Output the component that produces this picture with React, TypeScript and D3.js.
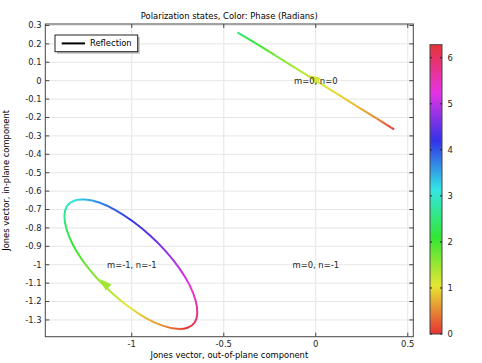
import React from 'react';
import * as d3 from 'd3';

// chart values
const xTicks = [-1, -0.5, 0, 0.5];
const yTicks = [0.3, 0.2, 0.1, 0, -0.1, -0.2, -0.3, -0.4, -0.5, -0.6, -0.7, -0.8, -0.9, -1, -1.1, -1.2, -1.3];
const phaseTicks = [0, 1, 2, 3, 4, 5, 6];

// [x, y, phase] along the m=-1, n=-1 ellipse
const ellipseMm1 = [
    [-0.697, -1.342, 0.0], [-0.756, -1.348, 0.26], [-0.833, -1.331, 0.52], [-0.921, -1.291, 0.79],
    [-1.015, -1.23, 1.05], [-1.108, -1.154, 1.31], [-1.194, -1.068, 1.57], [-1.268, -0.976, 1.83],
    [-1.323, -0.886, 2.09], [-1.356, -0.802, 2.36], [-1.366, -0.732, 2.62], [-1.352, -0.68, 2.88],
    [-1.313, -0.652, 3.14], [-1.254, -0.646, 3.4], [-1.177, -0.662, 3.67], [-1.089, -0.703, 3.93],
    [-0.995, -0.764, 4.19], [-0.902, -0.84, 4.45], [-0.816, -0.926, 4.71], [-0.742, -1.018, 4.97],
    [-0.687, -1.108, 5.24], [-0.654, -1.192, 5.5], [-0.644, -1.262, 5.76], [-0.658, -1.314, 6.02],
];

// [x, y, phase] along the m=0, n=0 trace (linear polarization)
const lineM0 = [
    [0.4255, -0.2645, 5.95], [0.41, -0.255, 0.1], [0.33, -0.205, 0.5], [0.22, -0.137, 0.8],
    [0.11, -0.068, 0.98], [0.0, 0.0, 1.15], [-0.11, 0.068, 1.4], [-0.22, 0.137, 1.75],
    [-0.33, 0.205, 2.1], [-0.426, 0.263, 2.6],
];

// arrow heads: tip, phase, direction (data units)
const arrows = [
    { x: -1.172, y: -1.078, phase: 1.45, dx: -1, dy: 1 },
    { x: -0.042, y: 0.031, phase: 1.15, dx: -1, dy: 0.62 },
];

const labels = [
    { text: 'm=0, n=0', x: 0, y: 0 },
    { text: 'm=-1, n=-1', x: -1, y: -1 },
    { text: 'm=0, n=-1', x: 0, y: -1 },
];

const TWO_PI = Math.PI * 2;
const phaseColor = (p: number) => d3.hsl((((p % TWO_PI) + TWO_PI) % TWO_PI) / TWO_PI * 360, 0.78, 0.55).toString();

const W = 482, H = 363;
const font = 'DejaVu Sans, sans-serif';
const fs = 8.4;

export default function App() {
    const xScale = d3.scaleLinear().domain([-1.47, 0.53]).range([45.3, 413.3]);
    const yScale = d3.scaleLinear().domain([-1.391, 0.308]).range([336.7, 24]);
    const [x0, x1] = xScale.range();
    const [y0, y1] = yScale.range();
    const cScale = d3.scaleLinear().domain([0, TWO_PI]).range([334, 44.7]);
    const cbX = 430, cbW = 12;

    const ellPx = ellipseMm1.map(d => [xScale(d[0]), yScale(d[1]), d[2]]);
    const smooth = d3.line().curve(d3.curveCardinalClosed.tension(0))(ellPx.map(d => [d[0], d[1]]) as [number, number][]) || '';

    const segs = (pts: number[][], closed: boolean) => {
        const out: { a: number[]; b: number[] }[] = [];
        const n = closed ? pts.length : pts.length - 1;
        for (let i = 0; i < n; i++) out.push({ a: pts[i], b: pts[(i + 1) % pts.length] });
        return out;
    };
    const ellSegs = segs(ellPx, true);
    const linePx = lineM0.map(d => [xScale(d[0]), yScale(d[1]), d[2]]);
    const lineSegs = segs(linePx, false);

    const arrowPath = (a: typeof arrows[0]) => {
        const tx = xScale(a.x), ty = yScale(a.y);
        let ux = a.dx, uy = -a.dy;
        const len = Math.hypot(ux, uy);
        ux /= len; uy /= len;
        const L = 12, hw = 4.2;
        const bx = tx - ux * L, by = ty - uy * L;
        return `M${tx},${ty}L${bx - uy * hw},${by + ux * hw}L${bx + uy * hw},${by - ux * hw}Z`;
    };

    const cbStops = d3.range(0, 61).map(i => i / 60);

    return (
        <svg width={W} height={H} style={{ position: 'absolute', left: 0, top: 0, background: '#fff' }} fontFamily={font}>
            <defs>
                {ellSegs.map((s, i) => (
                    <linearGradient key={'ge' + i} id={'ge' + i} gradientUnits="userSpaceOnUse" x1={s.a[0]} y1={s.a[1]} x2={s.b[0]} y2={s.b[1]}>
                        <stop offset="0" stopColor={phaseColor(s.a[2])} />
                        <stop offset="1" stopColor={phaseColor(i === ellSegs.length - 1 ? TWO_PI : s.b[2])} />
                    </linearGradient>
                ))}
                {lineSegs.map((s, i) => (
                    <linearGradient key={'gl' + i} id={'gl' + i} gradientUnits="userSpaceOnUse" x1={s.a[0]} y1={s.a[1]} x2={s.b[0]} y2={s.b[1]}>
                        <stop offset="0" stopColor={phaseColor(s.a[2])} />
                        <stop offset="1" stopColor={phaseColor(s.b[2])} />
                    </linearGradient>
                ))}
                <linearGradient id="cbar" x1="0" y1="1" x2="0" y2="0">
                    {cbStops.map(t => <stop key={t} offset={t} stopColor={phaseColor(t * TWO_PI * 0.9999)} />)}
                </linearGradient>
                <mask id="ellMask" maskUnits="userSpaceOnUse" x={0} y={0} width={W} height={H}>
                    <path d={smooth} fill="none" stroke="#fff" strokeWidth={2} />
                </mask>
            </defs>

            {/* title */}
            <text x={(x0 + x1) / 2} y={19} textAnchor="middle" fontSize={fs}>Polarization states, Color: Phase (Radians)</text>

            {/* grid */}
            <g stroke="#e6e6e6" strokeWidth={1}>
                {xTicks.map(t => <line key={'gx' + t} x1={xScale(t)} x2={xScale(t)} y1={y1} y2={y0} />)}
                {yTicks.map(t => <line key={'gy' + t} x1={x0} x2={x1} y1={yScale(t)} y2={yScale(t)} />)}
            </g>

            {/* m=0, n=0 trace */}
            <g fill="none" strokeWidth={2}>
                {lineSegs.map((s, i) => (
                    <line key={'ls' + i} x1={s.a[0]} y1={s.a[1]} x2={s.b[0]} y2={s.b[1]} stroke={`url(#gl${i})`} />
                ))}
            </g>

            {/* m=-1, n=-1 ellipse */}
            <g mask="url(#ellMask)" strokeWidth={8} strokeLinecap="round">
                {ellSegs.map((s, i) => (
                    <line key={'es' + i} x1={s.a[0]} y1={s.a[1]} x2={s.b[0]} y2={s.b[1]} stroke={`url(#ge${i})`} />
                ))}
            </g>

            {arrows.map((a, i) => <path key={'ar' + i} d={arrowPath(a)} fill={phaseColor(a.phase)} />)}

            {labels.map(l => (
                <text key={l.text} x={xScale(l.x)} y={yScale(l.y)} dy="0.35em" textAnchor="middle" fontSize={fs} fill="#222">{l.text}</text>
            ))}

            {/* frame and ticks */}
            <rect x={x0} y={y1} width={x1 - x0} height={y0 - y1} fill="none" stroke="#444" strokeWidth={1} />
            <g stroke="#444" strokeWidth={1}>
                {xTicks.map(t => <line key={'tb' + t} x1={xScale(t)} x2={xScale(t)} y1={y0} y2={y0 - 4} />)}
                {xTicks.map(t => <line key={'tt' + t} x1={xScale(t)} x2={xScale(t)} y1={y1} y2={y1 + 4} />)}
                {yTicks.map(t => <line key={'tl' + t} x1={x0} x2={x0 + 4} y1={yScale(t)} y2={yScale(t)} />)}
                {yTicks.map(t => <line key={'tr' + t} x1={x1} x2={x1 - 4} y1={yScale(t)} y2={yScale(t)} />)}
            </g>
            <g fontSize={fs} fill="#222">
                {xTicks.map(t => <text key={'lx' + t} x={xScale(t)} y={346.5} textAnchor="middle">{t}</text>)}
                {yTicks.map(t => <text key={'ly' + t} x={41.5} y={yScale(t)} dy="0.35em" textAnchor="end">{t}</text>)}
            </g>

            {/* axis titles */}
            <text x={(x0 + x1) / 2} y={357.5} textAnchor="middle" fontSize={fs}>Jones vector, out-of-plane component</text>
            <text transform={`translate(9,${(y0 + y1) / 2}) rotate(-90)`} textAnchor="middle" fontSize={fs}>Jones vector, in-plane component</text>

            {/* legend */}
            <rect x={57} y={37} width={82.7} height={16.7} fill="#bbb" />
            <rect x={55} y={35} width={82.7} height={16.7} fill="#fff" stroke="#222" strokeWidth={1} />
            <line x1={61.7} x2={85} y1={43.4} y2={43.4} stroke="#000" strokeWidth={2} />
            <text x={90} y={43.4} dy="0.35em" fontSize={fs}>Reflection</text>

            {/* colorbar */}
            <rect x={cbX} y={cScale(TWO_PI)} width={cbW} height={cScale(0) - cScale(TWO_PI)} fill="url(#cbar)" stroke="#444" strokeWidth={1} />
            <g stroke="#222" strokeWidth={1}>
                {phaseTicks.map(t => (
                    <g key={'ct' + t}>
                        <line x1={cbX} x2={cbX + 2} y1={cScale(t)} y2={cScale(t)} />
                        <line x1={cbX + cbW - 2} x2={cbX + cbW} y1={cScale(t)} y2={cScale(t)} />
                    </g>
                ))}
            </g>
            <g fontSize={fs} fill="#222">
                {phaseTicks.map(t => <text key={'cl' + t} x={447.5} y={cScale(t)} dy="0.35em">{t}</text>)}
            </g>
        </svg>
    );
}
